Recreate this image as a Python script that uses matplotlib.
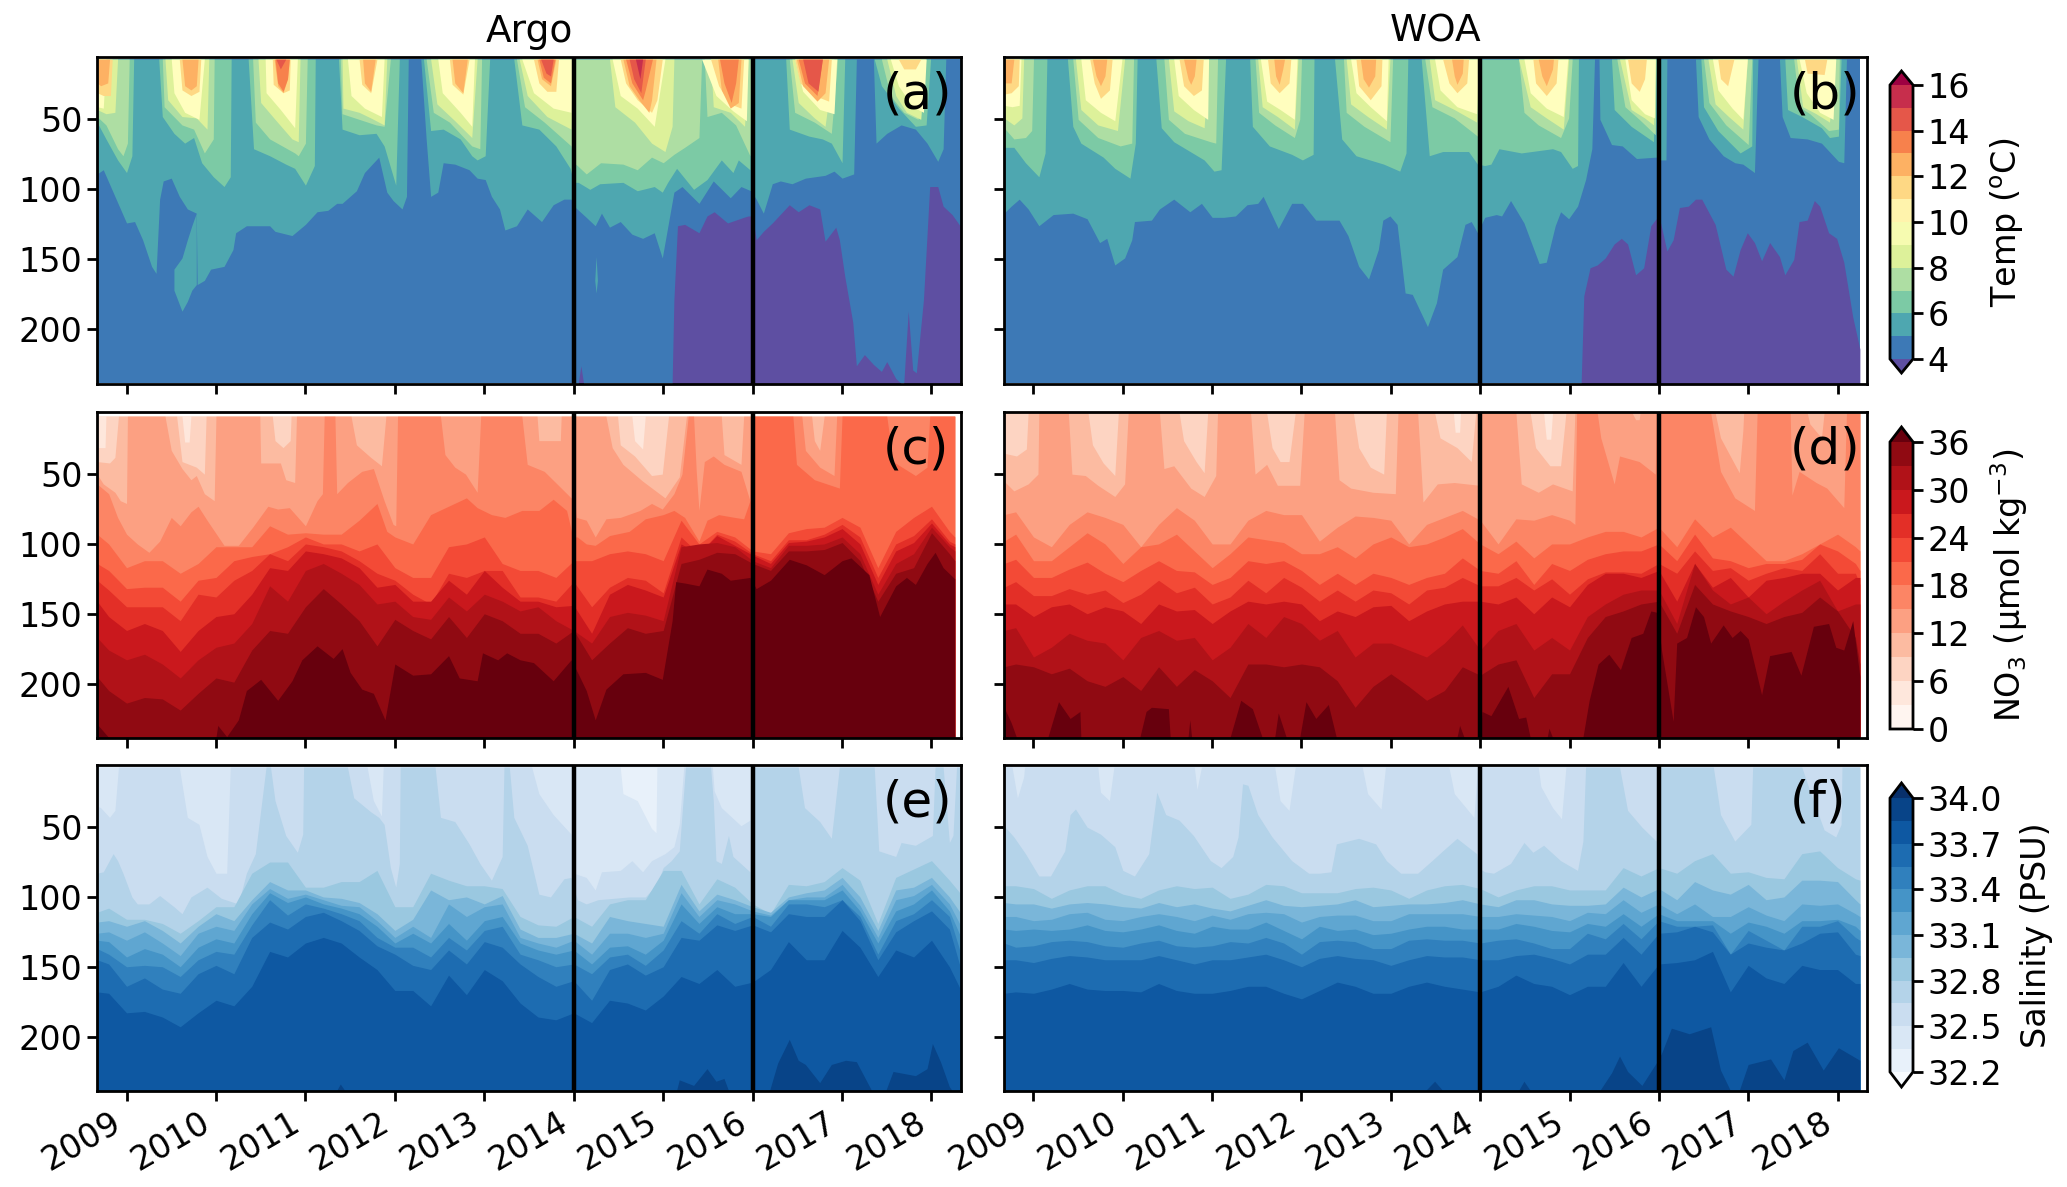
import numpy as np
import matplotlib
matplotlib.use("Agg")
import matplotlib.pyplot as plt
from matplotlib.cm import ScalarMappable
from matplotlib.colors import BoundaryNorm, ListedColormap

# 時間は 2000 年からの年数、値は等値線の深さ (m)
years = list(range(2009, 2019))
depth_ticks = [50, 100, 150, 200]
temp_levels = [4, 5, 6, 7, 8, 9, 10, 11, 12, 13, 14, 15, 16]
no3_levels = [0, 3, 6, 9, 12, 15, 18, 21, 24, 27, 30, 33, 36]
sal_levels = [32.2, 32.35, 32.5, 32.65, 32.8, 32.95, 33.1, 33.25, 33.4, 33.55, 33.7, 33.85, 34.0]
temp_ticks = [4, 6, 8, 10, 12, 14, 16]
no3_ticks = [0, 6, 12, 18, 24, 30, 36]
sal_ticks = [32.2, 32.5, 32.8, 33.1, 33.4, 33.7, 34.0]

grid_t = [8.67, 8.8, 9.0, 9.2, 9.4, 9.6, 9.8, 10.0, 10.2, 10.4, 10.6, 10.8, 11.0, 11.2, 11.4, 11.6, 11.8,
          12.0, 12.2, 12.4, 12.6, 12.8, 13.0, 13.2, 13.4, 13.6, 13.8, 14.0, 14.2, 14.4, 14.6, 14.8, 15.0,
          15.2, 15.4, 15.6, 15.8, 16.0, 16.2, 16.4, 16.6, 16.8, 17.0, 17.2, 17.4, 17.6, 17.8, 18.0, 18.2]

# (a) Argo 水温
a4 = [(8.67,240),(14.05,240),(14.08,226),(14.11,240),(15.1,240),(15.12,179),(15.16,126),(15.24,125),(15.4,131),(15.49,119),(15.57,116),(15.72,124),(15.9,120),(15.95,119),(16,119),(16.04,136),(16.12,130),(16.22,124),(16.41,111),(16.51,116),(16.63,111),(16.75,114),(16.81,137),(16.93,127),(16.97,136),(17.03,162),(17.12,195),(17.16,226),(17.25,218),(17.35,225),(17.44,230),(17.5,223),(17.6,235),(17.66,240),(17.69,240),(17.74,187),(17.79,229),(17.83,231),(17.91,179),(17.98,98),(18.07,98),(18.13,112),(18.23,118),(18.33,127)]
a5 = [(8.67,89),(8.74,86),(8.87,105),(9,124),(9.09,123),(9.18,136),(9.28,155),(9.33,160),(9.37,107),(9.41,94),(9.5,92),(9.59,105),(9.68,114),(9.78,117),(9.79,168),(9.87,165),(9.94,157),(10.09,155),(10.19,143),(10.22,131),(10.34,126),(10.6,126),(10.66,130),(10.85,133),(11,125),(11.13,116),(11.25,115),(11.35,110),(11.41,110),(11.57,101),(11.66,88),(11.82,77),(11.91,102),(11.98,108),(12.08,114),(12.13,105),(12.15,0),(12.29,0),(12.35,64),(12.4,105),(12.48,102),(12.54,81),(12.67,82),(12.83,86),(12.92,92),(13.01,93),(13.08,105),(13.17,114),(13.23,129),(13.36,126),(13.48,114),(13.64,123),(13.77,111),(13.89,107),(13.97,107),(14.02,113),(14.14,120),(14.24,126),(14.31,117),(14.4,127),(14.52,123),(14.65,132),(14.77,135),(14.9,131),(14.99,149),(15.12,102),(15.21,98),(15.4,110),(15.56,94),(15.75,106),(15.87,98),(15.98,101),(16.04,107),(16.12,117),(16.22,96),(16.31,94),(16.44,96),(16.59,92),(16.81,90),(16.91,87),(17,92),(17.13,89),(17.16,0),(17.35,0),(17.38,67),(17.5,60),(17.66,54),(17.82,57),(17.95,67),(18.07,80),(18.13,71),(18.16,0),(18.33,0)]
a6 = [(8.67,52),(8.77,64),(8.9,79),(9,88),(9.06,76),(9.08,0),(9.36,0),(9.4,48),(9.53,60),(9.65,67),(9.75,63),(9.84,81),(9.97,91),(10.09,98),(10.16,91),(10.17,0),(10.36,0),(10.42,71),(10.6,76),(10.78,82),(10.88,85),(11,97),(11.1,83),(11.11,0),(11.37,0),(11.41,57),(11.6,61),(11.79,60),(11.88,69),(12.01,97),(12.05,0),(12.32,0),(12.4,58),(12.54,57),(12.73,64),(12.86,76),(12.92,79),(13.01,76),(13.06,0),(13.33,0),(13.42,54),(13.61,57),(13.8,69),(13.96,85),(14,95),(14.05,95),(14.18,100),(14.29,96),(14.55,95),(14.71,101),(14.9,98),(14.99,102),(15.05,95),(15.15,85),(15.34,100),(15.49,93),(15.65,79),(15.78,88),(15.84,79),(15.97,86),(15.98,0),(16.37,0),(16.41,57),(16.63,62),(16.78,64),(16.88,67),(17,81),(17.03,0),(17.36,0),(17.44,26),(17.63,42),(17.82,55),(17.94,54),(17.99,0),(18.33,0)]
a7 = [(8.67,48),(8.77,54),(8.9,71),(8.96,76),(9.01,67),(9.03,0),(9.4,0),(9.42,41),(9.62,54),(9.75,57),(9.87,74),(9.97,64),(9.98,0),(10.41,0),(10.44,52),(10.6,64),(10.88,74),(10.92,76),(11,67),(11.02,0),(11.39,0),(11.41,46),(11.6,50),(11.79,54),(11.88,55),(11.95,0),(12.35,0),(12.43,45),(12.61,52),(12.86,69),(12.95,71),(12.97,0),(13.36,0),(13.45,41),(13.67,52),(13.97,69),(14,81),(14.04,83),(14.14,89),(14.3,81),(14.55,82),(14.71,86),(14.87,77),(15,81),(15.12,75),(15.24,70),(15.4,63),(15.43,0),(15.46,0),(15.49,48),(15.65,45),(15.81,54),(15.97,76),(15.98,0),(16.41,0),(16.47,45),(16.69,52),(16.88,60),(16.95,0),(17.44,0),(17.54,33),(17.69,45),(17.85,50),(17.94,0),(18.33,0)]
a8 = [(8.67,43),(8.77,46),(8.87,45),(8.9,0),(9.43,0),(9.46,36),(9.62,48),(9.78,49),(9.9,57),(9.92,0),(10.47,0),(10.5,38),(10.66,50),(10.85,64),(10.92,66),(10.94,0),(11.41,0),(11.42,42),(11.6,45),(11.73,49),(11.88,54),(11.91,0),(12.4,0),(12.47,39),(12.67,51),(12.86,63),(12.92,0),(13.39,0),(13.48,33),(13.7,48),(13.97,57),(14,0),(14.4,0),(14.46,41),(14.68,52),(14.87,67),(15.02,73),(15.1,55),(15.12,0),(15.53,0),(15.56,41),(15.75,45),(15.91,55),(15.95,0),(16.44,0),(16.51,38),(16.69,49),(16.81,55),(16.91,0),(17.5,0),(17.6,33),(17.72,45),(17.88,50),(17.93,0),(18.33,0)]
a9 = [(8.67,41),(8.74,42),(8.77,0),(9.5,0),(9.53,31),(9.65,45),(9.81,50),(9.87,0),(10.55,0),(10.56,31),(10.72,43),(10.88,56),(10.91,0),(11.47,0),(11.51,33),(11.66,42),(11.85,48),(11.88,0),(12.48,0),(12.53,31),(12.73,45),(12.86,55),(12.89,0),(13.42,0),(13.55,31),(13.77,42),(13.97,45),(13.99,0),(14.43,0),(14.52,33),(14.71,42),(14.9,55),(15.02,0),(15.43,0),(15.59,33),(15.78,44),(15.93,51),(15.95,0),(16.47,0),(16.56,30),(16.75,43),(16.91,46),(16.94,0),(17.54,0),(17.63,26),(17.79,41),(17.91,45),(17.94,0),(18.33,0)]
a11 = [(8.67,31),(8.74,33),(8.82,33),(8.84,0),(9.59,0),(9.62,29),(9.72,33),(9.81,30),(9.83,0),(10.63,0),(10.64,25),(10.75,31),(10.82,29),(10.83,0),(11.6,0),(11.63,25),(11.73,31),(11.8,0),(12.61,0),(12.64,25),(12.76,32),(12.83,0),(13.55,0),(13.61,24),(13.7,30),(13.8,30),(13.83,0),(14.52,0),(14.58,24),(14.71,36),(14.87,45),(14.93,36),(14.99,0),(15.53,0),(15.62,26),(15.75,39),(15.87,42),(15.9,0),(16.47,0),(16.53,24),(16.69,33),(16.85,37),(16.88,0),(17.63,0),(17.69,14),(17.82,14),(17.88,0),(18.33,0)]
a12 = [(8.67,24),(8.71,26),(8.79,24),(8.81,0),(9.62,0),(9.65,26),(9.72,29),(9.78,26),(9.8,0),(10.65,0),(10.69,26),(10.75,31),(10.8,21),(10.82,0),(11.64,0),(11.66,24),(11.73,30),(11.78,0),(12.64,0),(12.67,24),(12.76,31),(12.81,0),(13.59,0),(13.64,21),(13.74,26),(13.8,0),(14.55,0),(14.62,26),(14.74,37),(14.84,45),(14.87,36),(14.92,0),(15.61,0),(15.65,29),(15.75,42),(15.84,38),(15.87,0),(16.49,0),(16.56,26),(16.72,37),(16.81,31),(16.85,0),(18.33,0)]
a13 = [(8.67,0),(10.66,0),(10.69,24),(10.75,30),(10.8,21),(10.82,0),(13.61,0),(13.66,20),(13.74,24),(13.79,0),(14.58,0),(14.65,24),(14.77,36),(14.8,29),(14.88,0),(15.63,0),(15.68,24),(15.76,38),(15.81,24),(15.84,0),(16.51,0),(16.58,24),(16.72,33),(16.78,0),(18.33,0)]
a14 = [(8.67,0),(10.67,0),(10.72,14),(10.78,0),(13.63,0),(13.69,17),(13.74,19),(13.77,0),(14.62,0),(14.67,21),(14.75,31),(14.8,0),(16.56,0),(16.62,24),(16.73,30),(16.78,0),(18.33,0)]
a15 = [(8.67,0),(14.69,0),(14.74,21),(14.77,0),(18.33,0)]
a_lobe_t = [9.53, 9.62, 9.68, 9.73, 9.78]
a_lobe_top = [157, 149, 136, 126, 117]
a_lobe_bot = [172, 187, 180, 172, 168]
a_sliver_t = [14.235, 14.25, 14.265]
a_sliver_top = [165, 148, 165]
a_sliver_bot = [165, 174, 165]

# (b) WOA 水温
b4 = [(8.67,240),(15.13,240),(15.16,176),(15.23,156),(15.31,154),(15.4,149),(15.5,139),(15.58,135),(15.65,139),(15.74,161),(15.83,156),(15.91,126),(15.97,121),(16.02,124),(16.09,144),(16.16,136),(16.23,113),(16.33,112),(16.41,107),(16.48,107),(16.63,125),(16.75,157),(16.83,162),(16.91,143),(16.99,131),(17.07,138),(17.15,151),(17.24,138),(17.35,148),(17.41,161),(17.51,150),(17.57,123),(17.66,122),(17.74,108),(17.8,112),(17.9,131),(17.99,135),(18.07,152),(18.17,191),(18.25,214)]
b5 = [(8.67,117),(8.75,112),(8.84,107),(8.94,114),(9.06,126),(9.22,118),(9.44,117),(9.6,121),(9.74,138),(9.82,135),(9.91,154),(10.02,149),(10.1,136),(10.13,123),(10.32,122),(10.41,114),(10.57,107),(10.75,116),(10.88,110),(11,120),(11.13,120),(11.26,119),(11.39,111),(11.51,110),(11.57,105),(11.74,128),(11.89,110),(12.01,110),(12.16,122),(12.42,122),(12.52,133),(12.64,155),(12.75,164),(12.86,143),(12.91,122),(12.99,119),(13.07,125),(13.16,174),(13.24,175),(13.41,198),(13.51,181),(13.58,157),(13.74,148),(13.83,125),(13.9,123),(13.97,131),(14.05,120),(14.18,118),(14.24,119),(14.34,108),(14.49,124),(14.66,153),(14.74,152),(14.84,126),(14.9,116),(14.99,121),(15.09,112),(15.18,93),(15.25,71),(15.28,0),(15.33,0),(15.34,50),(15.47,68),(15.59,69),(15.75,78),(15.97,77),(16.02,79),(16.08,79),(16.09,0),(16.41,0),(16.44,48),(16.56,64),(16.72,76),(16.85,81),(16.94,82),(17.07,88),(17.11,0),(17.35,0),(17.38,48),(17.47,63),(17.66,64),(17.82,67),(18.01,80),(18.07,81),(18.1,0),(18.25,0)]
b6 = [(8.67,70),(8.78,70),(8.91,81),(9.06,91),(9.13,74),(9.15,0),(9.38,0),(9.44,55),(9.53,67),(9.78,77),(9.91,85),(10.08,92),(10.14,67),(10.16,0),(10.37,0),(10.43,56),(10.57,66),(10.91,79),(11.02,87),(11.1,86),(11.15,0),(11.42,0),(11.45,55),(11.64,69),(11.89,75),(12.01,79),(12.13,75),(12.14,0),(12.37,0),(12.45,64),(12.61,76),(12.92,82),(13.1,87),(13.17,74),(13.19,0),(13.34,0),(13.43,76),(13.58,73),(13.87,73),(13.97,82),(14.05,83),(14.12,82),(14.21,71),(14.46,74),(14.81,71),(14.9,73),(15.03,85),(15.09,83),(15.1,0),(15.47,0),(15.5,43),(15.69,55),(15.94,66),(15.97,0),(16.47,0),(16.5,41),(16.66,58),(16.91,74),(17.04,69),(17.05,0),(17.41,0),(17.44,43),(17.6,48),(17.82,56),(17.91,63),(18.01,62),(18.04,0),(18.25,0)]
b7 = [(8.67,56),(8.78,64),(8.91,63),(8.98,58),(9,0),(9.44,0),(9.5,50),(9.72,63),(9.97,69),(10.1,67),(10.12,0),(10.46,0),(10.51,50),(10.69,60),(10.98,66),(11.04,67),(11.06,0),(11.48,0),(11.52,45),(11.7,54),(11.92,63),(11.98,50),(12,0),(12.47,0),(12.5,45),(12.7,55),(12.99,66),(13.02,0),(13.38,0),(13.46,41),(13.71,49),(13.97,62),(13.99,0),(14.43,0),(14.49,45),(14.65,54),(14.9,63),(14.99,49),(15.03,0),(15.53,0),(15.62,41),(15.78,50),(15.96,61),(15.97,0),(16.5,0),(16.56,38),(16.75,54),(17,68),(17.04,0),(17.51,0),(17.57,41),(17.69,46),(17.9,58),(18.01,57),(18.02,0),(18.25,0)]
b8 = [(8.67,49),(8.78,54),(8.87,49),(8.89,0),(9.47,0),(9.53,43),(9.72,54),(9.94,58),(10.02,0),(10.51,0),(10.57,44),(10.73,51),(10.91,56),(10.96,0),(11.51,0),(11.56,41),(11.73,48),(11.92,57),(11.96,0),(12.5,0),(12.55,39),(12.74,48),(12.95,57),(12.99,0),(13.43,0),(13.49,36),(13.71,43),(13.96,52),(13.98,0),(14.43,0),(14.56,41),(14.74,49),(14.93,57),(14.99,0),(15.56,0),(15.69,43),(15.84,49),(15.94,54),(15.96,0),(16.55,0),(16.63,39),(16.78,48),(16.94,57),(16.99,0),(17.54,0),(17.61,41),(17.76,46),(17.91,52),(17.98,0),(18.25,0)]
b9 = [(8.67,40),(8.76,41),(8.84,40),(8.86,0),(9.53,0),(9.58,36),(9.75,45),(9.91,51),(9.99,0),(10.57,0),(10.62,33),(10.79,43),(10.95,50),(10.96,0),(11.54,0),(11.61,37),(11.76,43),(11.92,50),(11.95,0),(12.55,0),(12.61,31),(12.77,41),(12.95,51),(12.97,0),(13.49,0),(13.55,29),(13.74,41),(13.96,46),(13.98,0),(14.49,0),(14.56,31),(14.74,42),(14.93,48),(14.98,0),(15.62,0),(15.69,36),(15.84,46),(15.95,49),(15.96,0),(16.6,0),(16.66,29),(16.82,42),(16.94,50),(16.99,0),(17.57,0),(17.65,31),(17.8,45),(17.95,50),(17.98,0),(18.25,0)]
b11 = [(8.67,32),(8.75,31),(8.83,26),(8.84,0),(9.63,0),(9.68,24),(9.75,35),(9.85,29),(9.88,0),(10.63,0),(10.68,26),(10.79,33),(10.88,29),(10.9,0),(11.62,0),(11.65,24),(11.75,31),(11.86,24),(11.88,0),(12.61,0),(12.64,26),(12.77,36),(12.89,26),(12.9,0),(13.58,0),(13.65,24),(13.74,31),(13.85,24),(13.87,0),(14.59,0),(14.62,24),(14.74,33),(14.85,24),(14.87,0),(15.65,0),(15.69,24),(15.78,30),(15.84,21),(15.86,0),(16.66,0),(16.69,21),(16.77,26),(16.84,0),(17.63,0),(17.66,17),(17.85,18),(17.88,0),(18.25,0)]
b12 = [(8.67,24),(8.75,24),(8.78,0),(9.66,0),(9.7,19),(9.75,26),(9.8,19),(9.82,0),(10.68,0),(10.73,21),(10.76,25),(10.8,19),(10.82,0),(11.69,0),(11.71,19),(11.75,25),(11.79,14),(11.81,0),(12.66,0),(12.69,21),(12.75,27),(12.82,19),(12.83,0),(13.68,0),(13.71,19),(13.74,25),(13.8,17),(13.81,0),(14.65,0),(14.69,19),(14.74,26),(14.81,14),(14.82,0),(18.25,0)]

# (c) Argo 硝酸塩
c2 = [(8.67,31),(8.76,31),(8.77,0),(9.62,0),(9.65,27),(9.7,27),(9.72,0),(14.65,0),(14.68,26),(14.77,32),(14.8,0),(18.26,0)]
c3 = [(8.67,41),(8.81,42),(8.87,38),(8.91,0),(9.56,0),(9.62,41),(9.78,45),(9.87,50),(9.89,0),(10.63,0),(10.66,26),(10.75,31),(10.83,26),(10.84,0),(14.49,0),(14.52,29),(14.68,37),(14.87,51),(14.99,50),(15.06,0),(18.26,0)]
c4 = [(8.67,50),(8.74,57),(8.87,63),(8.93,69),(9,71),(9.01,0),(9.43,0),(9.5,33),(9.62,46),(9.72,54),(9.78,51),(9.87,64),(9.98,69),(10,0),(10.49,0),(10.5,42),(10.72,42),(10.78,54),(10.88,56),(10.9,0),(11.51,0),(11.57,29),(11.73,38),(11.85,44),(11.9,0),(13.59,0),(13.61,26),(13.85,26),(13.86,0),(14.36,0),(14.43,31),(14.55,43),(14.77,55),(15.02,67),(15.18,52),(15.26,0),(15.65,0),(15.68,36),(15.87,43),(15.9,0),(16.66,0),(16.69,26),(16.75,33),(16.8,0),(18.26,0)]
c5 = [(8.67,57),(8.8,64),(8.9,81),(9,93),(9.12,100),(9.25,106),(9.37,98),(9.5,81),(9.6,87),(9.72,77),(9.8,73),(9.9,83),(10.09,101),(10.25,101),(10.41,88),(10.58,73),(10.69,75),(10.82,74),(11,87),(11.13,69),(11.19,64),(11.21,0),(11.33,0),(11.35,64),(11.47,56),(11.63,48),(11.76,46),(11.88,69),(11.98,86),(12.01,87),(12.03,0),(12.51,0),(12.56,36),(12.67,45),(12.79,50),(12.92,63),(12.96,0),(13.42,0),(13.48,43),(13.67,48),(13.86,60),(13.97,67),(14.01,67),(14.03,81),(14.14,83),(14.24,95),(14.36,82),(14.52,81),(14.74,76),(14.87,71),(14.99,75),(15.12,64),(15.21,50),(15.28,0),(15.34,0),(15.37,48),(15.4,76),(15.46,41),(15.56,37),(15.68,43),(15.87,48),(15.97,69),(15.98,0),(16.55,0),(16.59,33),(16.75,45),(16.91,51),(16.94,0),(18.26,0)]
c6 = [(8.67,93),(8.8,100),(9,117),(9.2,112),(9.4,112),(9.6,121),(9.8,114),(10,102),(10.2,102),(10.4,102),(10.6,87),(10.8,93),(11,92),(11.2,93),(11.4,93),(11.6,83),(11.8,71),(11.91,91),(12,95),(12.2,100),(12.4,79),(12.6,73),(12.8,67),(12.92,74),(13.08,79),(13.23,81),(13.42,76),(13.61,76),(13.77,68),(13.92,76),(13.99,95),(14.04,95),(14.14,100),(14.24,101),(14.4,94),(14.62,91),(14.8,82),(15,79),(15.12,76),(15.24,81),(15.4,98),(15.49,83),(15.62,79),(15.8,81),(15.9,82),(15.97,69),(15.98,0),(16.45,0),(16.49,43),(16.69,54),(16.97,60),(17,0),(17.5,0),(17.57,41),(17.82,51),(17.95,45),(17.98,0),(18.26,0)]
c7 = [114,119,132,131,131,141,126,124,112,109,107,102,95,100,100,105,100,117,124,124,102,100,95,114,119,119,124,112,112,107,105,107,112,83,100,91,95,105,107,92,89,88,81,88,117,91,81,73,91,95]
c8 = [126,133,145,145,145,155,136,138,126,119,107,112,100,102,105,112,121,126,136,143,121,124,119,119,138,138,141,127,145,131,124,126,135,95,107,93,98,107,112,97,97,93,86,95,124,100,94,82,98,100]
c9 = [141,152,162,157,162,177,162,152,150,136,117,119,105,107,110,117,131,129,141,141,126,136,119,131,141,141,145,144,164,136,129,133,138,100,107,94,101,108,114,99,98,95,89,100,129,105,99,85,100,102]
c10 = [167,176,183,179,186,196,183,174,171,157,130,141,119,114,121,129,143,141,152,154,138,148,136,141,148,145,155,162,171,152,149,151,155,102,100,99,102,112,117,101,101,100,95,107,136,114,107,88,102,105]
c11 = [195,205,214,210,211,219,207,196,199,176,162,164,145,132,143,155,173,154,162,168,152,167,150,155,164,164,171,162,183,171,160,164,162,114,111,106,107,114,119,105,105,104,99,112,141,121,117,92,107,112]
c12 = [(8.67,229),(8.8,240),(10,240),(10.02,230),(10.12,238),(10.25,226),(10.34,205),(10.5,197),(10.69,212),(10.85,198),(10.96,183),(11.13,173),(11.31,182),(11.41,175),(11.5,192),(11.63,204),(11.76,207),(11.89,226),(12,186),(12.2,194),(12.4,193),(12.6,180),(12.72,196),(12.92,198),(12.98,178),(13.15,183),(13.25,178),(13.4,183),(13.55,185),(13.77,198),(13.97,183),(14.05,193),(14.14,205),(14.24,226),(14.36,204),(14.55,193),(14.8,192),(14.99,197),(15.1,155),(15.14,127),(15.24,128),(15.4,130),(15.49,118),(15.65,121),(15.75,126),(15.97,124),(16.04,132),(16.2,126),(16.41,111),(16.6,115),(16.8,122),(17,112),(17.1,110),(17.3,122),(17.42,152),(17.6,130),(17.72,124),(17.82,129),(17.95,114),(18.04,106),(18.13,117),(18.26,125)]

# (d) WOA 硝酸塩
d2 = [(8.67,0),(13.7,0),(13.72,20),(13.77,20),(13.78,0),(14.71,0),(14.74,25),(14.79,25),(14.81,0),(18.25,0)]
d3 = [(8.67,35),(8.81,37),(8.92,32),(8.94,0),(9.61,0),(9.66,29),(9.78,42),(9.91,51),(9.95,0),(10.63,0),(10.68,26),(10.82,41),(10.91,49),(10.95,0),(11.61,0),(11.67,31),(11.76,41),(11.86,41),(11.93,0),(12.58,0),(12.64,31),(12.77,45),(12.92,50),(12.95,0),(13.49,0),(13.55,24),(13.74,31),(13.9,41),(13.95,0),(14.56,0),(14.62,31),(14.78,44),(14.9,44),(14.96,0),(18.25,0)]
d4 = [(8.67,55),(8.78,62),(8.94,57),(9.05,50),(9.06,0),(9.39,0),(9.43,50),(9.58,51),(9.72,58),(9.91,66),(10.02,57),(10.06,0),(10.41,0),(10.46,46),(10.57,44),(10.76,60),(10.91,66),(11.04,51),(11.06,0),(11.43,0),(11.48,50),(11.61,43),(11.73,58),(11.98,58),(12.03,0),(12.37,0),(12.42,54),(12.55,60),(12.8,63),(13.05,64),(13.08,0),(13.3,0),(13.36,70),(13.52,57),(13.71,56),(13.99,58),(14.01,0),(14.4,0),(14.46,57),(14.65,63),(14.81,57),(15.03,62),(15.06,0),(15.7,0),(15.74,11),(15.78,11),(15.79,0),(16.63,0),(16.69,24),(16.9,49),(16.94,19),(16.95,0),(17.66,0),(17.69,14),(17.82,24),(17.85,0),(18.25,0)]
d5 = [(8.67,79),(8.8,77),(9,95),(9.2,102),(9.4,86),(9.6,77),(9.8,81),(10,86),(10.2,102),(10.4,86),(10.6,74),(10.8,83),(11,100),(11.2,100),(11.4,83),(11.6,76),(11.8,79),(12,79),(12.2,98),(12.4,88),(12.6,80),(12.8,81),(13,83),(13.2,100),(13.4,86),(13.6,81),(13.8,76),(14,83),(14.2,100),(14.4,82),(14.6,83),(14.8,79),(15,83),(15.06,86),(15.08,0),(15.31,0),(15.35,24),(15.5,57),(15.56,37),(15.78,41),(15.96,50),(15.97,0),(16.58,0),(16.69,48),(16.85,67),(17.07,76),(17.1,0),(17.47,0),(17.49,65),(17.57,48),(17.76,56),(17.88,60),(18.07,74),(18.1,0),(18.25,0)]
d6 = [98,93,112,112,102,92,100,114,102,100,93,105,117,107,95,97,99,107,107,102,110,100,95,102,100,95,89,100,107,98,110,100,100,95,91,91,95,88,102,82,95,88,100,112,112,107,100,93,102,105]
d7 = [114,111,124,124,118,113,121,127,119,112,119,120,129,124,112,114,112,119,129,121,129,121,124,129,124,121,110,119,121,112,129,114,119,111,107,105,105,100,112,93,110,112,117,114,114,111,100,105,114,119]
d8 = [131,127,137,137,132,136,133,142,136,126,135,131,143,138,126,135,124,131,141,133,141,133,135,143,133,131,124,130,130,124,133,125,136,125,120,120,121,114,121,105,119,117,126,121,117,119,107,121,121,129]
d9 = [143,143,152,145,143,150,145,148,157,143,148,147,157,148,141,143,141,143,155,148,152,145,144,155,148,143,141,141,143,138,150,138,145,129,121,121,124,119,141,114,131,124,138,126,124,121,121,133,124,124]
d10 = [162,160,181,174,164,169,171,183,167,162,169,167,183,174,157,167,152,157,169,162,181,171,171,176,181,171,158,176,162,157,176,167,176,152,143,136,133,133,157,114,133,143,138,150,141,133,126,148,143,143]
d11 = [188,186,188,193,189,198,202,195,205,188,202,190,198,210,186,186,188,186,188,198,217,202,193,202,212,205,188,194,186,183,210,193,193,167,152,148,143,141,164,129,143,148,152,157,152,149,138,148,167,186]
d12 = [(8.67,217),(8.75,228),(8.81,240),(9.16,240),(9.28,213),(9.41,225),(9.52,220),(9.53,240),(10.19,240),(10.26,220),(10.32,217),(10.51,218),(10.53,240),(10.73,240),(10.75,226),(10.77,240),(11.2,240),(11.32,212),(11.45,218),(11.56,240),(11.7,240),(11.74,221),(11.83,240),(11.98,240),(12.05,213),(12.16,225),(12.3,215),(12.39,240),(13.74,240),(13.77,230),(13.82,240),(14,240),(14.02,220),(14.12,223),(14.31,202),(14.43,225),(14.51,224),(14.56,240),(14.75,240),(14.77,232),(14.81,240),(15.15,240),(15.22,212),(15.32,186),(15.44,179),(15.57,190),(15.69,167),(15.82,164),(15.91,148),(15.98,149),(16.03,176),(16.16,227),(16.2,171),(16.31,167),(16.41,145),(16.5,152),(16.58,171),(16.72,158),(16.82,167),(16.91,162),(17,168),(17.15,208),(17.24,180),(17.48,177),(17.59,194),(17.73,159),(17.9,157),(17.98,174),(18.07,176),(18.17,155),(18.25,195)]

# (e) Argo 塩分
e2 = [(8.67,0),(14.52,0),(14.55,26),(14.71,31),(14.87,51),(14.92,54),(14.93,0),(18.33,0)]
e3 = [(8.67,35),(8.71,36),(8.81,43),(8.87,38),(8.91,0),(9.59,0),(9.68,43),(9.81,48),(9.9,71),(10,83),(10.12,83),(10.16,0),(11.69,0),(11.76,31),(11.85,42),(11.87,0),(13.53,0),(13.61,26),(13.77,41),(13.97,55),(14,83),(14.14,86),(14.24,95),(14.31,82),(14.52,81),(14.65,74),(14.77,82),(14.87,74),(15.02,69),(15.12,64),(15.18,48),(15.23,0),(15.55,0),(15.57,24),(15.65,36),(15.87,49),(15.97,45),(15.98,0),(18.33,0)]
e4 = [(8.67,83),(8.74,82),(8.85,69),(8.9,74),(8.96,83),(9.06,100),(9.12,105),(9.25,105),(9.37,99),(9.53,107),(9.62,112),(9.72,100),(9.9,93),(10.06,101),(10.25,105),(10.34,83),(10.44,69),(10.56,0),(10.61,0),(10.66,31),(10.78,56),(10.91,68),(10.97,55),(10.98,0),(11.47,0),(11.54,29),(11.73,39),(11.82,43),(11.88,48),(11.95,79),(12.01,93),(12.05,76),(12.06,0),(12.45,0),(12.51,43),(12.67,46),(12.83,62),(12.95,76),(13.08,88),(13.2,71),(13.22,0),(13.28,0),(13.33,43),(13.48,63),(13.61,98),(13.74,100),(13.89,87),(13.97,86),(14.04,102),(14.14,105),(14.27,102),(14.62,100),(14.8,100),(14.93,91),(15,79),(15.09,74),(15.18,67),(15.25,0),(15.53,0),(15.56,31),(15.59,74),(15.65,76),(15.73,56),(15.78,71),(15.97,82),(15.98,0),(16.51,0),(16.58,36),(16.75,46),(16.88,58),(16.97,0),(17.36,0),(17.41,67),(17.6,71),(17.66,61),(17.82,63),(18.01,56),(18.04,0),(18.13,0),(18.2,61),(18.24,56),(18.28,0),(18.33,0)]
e5 = [111,108,116,116,119,126,117,107,107,83,75,75,93,93,89,89,81,107,107,83,88,92,92,94,114,120,121,114,121,105,102,102,81,81,105,87,93,105,112,91,92,89,79,88,119,86,80,74,88,98]
e6 = [118,117,121,117,124,133,121,112,117,102,89,95,95,100,101,104,112,124,116,95,102,100,105,99,123,129,129,126,133,114,117,119,121,91,110,98,102,107,111,100,97,95,86,100,124,95,93,86,100,112]
e7 = [126,125,131,125,133,142,126,121,124,105,94,101,98,102,106,107,117,129,121,129,105,114,107,105,129,133,136,131,141,126,126,129,126,97,114,102,105,110,113,102,100,100,91,106,129,102,99,91,105,121]
e8 = [131,132,143,137,141,150,136,130,133,112,97,104,100,105,108,112,121,133,126,133,119,131,117,114,133,138,141,138,148,136,135,141,131,105,119,107,112,112,114,102,102,102,95,110,133,110,105,95,110,129]
e9 = [137,141,150,149,150,157,145,139,141,120,102,113,105,108,112,117,129,136,136,143,129,138,124,121,141,145,150,148,155,143,141,149,138,117,126,112,119,114,121,105,105,107,102,114,141,117,112,102,114,141]
e10 = [145,148,164,158,166,169,155,149,155,129,118,123,114,111,117,124,135,141,149,152,138,148,132,136,148,157,164,160,174,152,148,156,150,129,131,120,124,120,125,112,114,114,102,117,145,125,117,110,123,152]
e11 = [168,169,183,182,186,193,183,174,178,164,139,143,133,129,133,143,152,167,167,178,156,170,152,160,176,186,188,183,190,174,176,181,171,157,162,152,164,161,152,132,145,145,124,136,157,138,143,131,150,167]
e12 = [(8.67,240),(11.35,240),(11.39,234),(11.44,240),(15.15,240),(15.18,231),(15.34,235),(15.49,223),(15.59,232),(15.68,230),(15.73,240),(16.19,240),(16.28,219),(16.41,202),(16.51,217),(16.59,220),(16.75,233),(16.88,220),(17.04,217),(17.16,218),(17.33,240),(17.49,240),(17.57,225),(17.82,228),(17.95,223),(18.01,205),(18.1,218),(18.2,236),(18.23,240),(18.33,240)]

# (f) WOA 塩分
f3 = [(8.67,0),(8.76,0),(8.82,29),(8.89,14),(8.9,0),(9.72,0),(9.75,25),(9.85,31),(9.9,0),(10.8,0),(10.83,23),(10.88,0),(11.7,0),(11.76,31),(11.86,38),(11.93,0),(12.68,0),(12.74,26),(12.89,37),(12.94,0),(13.65,0),(13.71,26),(13.93,43),(13.97,0),(14.65,0),(14.68,21),(14.81,36),(14.91,44),(14.96,0),(18.25,0)]
f4 = [(8.67,49),(8.78,57),(8.91,69),(9.06,85),(9.19,85),(9.35,67),(9.41,41),(9.47,37),(9.6,50),(9.75,55),(9.91,64),(10,81),(10.13,85),(10.29,69),(10.38,25),(10.48,41),(10.63,45),(10.79,56),(10.98,74),(11.1,79),(11.23,71),(11.29,57),(11.34,19),(11.4,20),(11.51,41),(11.67,57),(11.89,74),(12.08,83),(12.2,83),(12.33,82),(12.39,62),(12.64,58),(12.83,62),(12.95,74),(13.11,83),(13.3,83),(13.46,74),(13.58,67),(13.74,58),(13.96,69),(13.98,79),(14.05,82),(14.15,83),(14.34,76),(14.49,61),(14.59,68),(14.71,63),(14.9,74),(15.09,81),(15.15,60),(15.18,0),(15.56,0),(15.65,38),(15.81,50),(15.97,60),(15.98,0),(16.61,0),(16.69,41),(16.85,60),(17.03,48),(17.05,0),(17.6,0),(17.69,24),(17.85,52),(17.98,57),(18.04,48),(18.05,0),(18.25,0)]
f5 = [92,92,94,101,95,92,92,98,101,95,92,94,93,101,98,91,92,97,97,97,94,93,95,101,95,92,91,94,100,95,92,92,95,95,95,79,85,79,83,74,69,83,82,86,87,69,67,79,87,88]
f6 = [104,105,105,108,105,104,105,107,108,104,107,105,108,110,106,102,106,107,106,105,102,107,106,105,105,104,102,105,107,102,102,105,106,106,105,93,100,94,102,89,95,98,91,102,100,88,88,89,102,105]
f7 = [114,114,117,116,112,111,116,117,114,112,114,117,113,116,112,111,112,118,114,113,113,117,117,112,112,112,112,114,114,112,113,114,117,111,112,102,111,105,112,105,114,114,107,113,117,105,106,105,112,114]
f8 = [123,124,123,124,123,120,124,125,123,120,124,126,121,123,123,118,124,130,121,124,123,127,126,123,121,121,123,123,123,119,121,124,125,119,121,112,121,112,117,117,117,126,118,121,126,117,117,116,121,124]
f9 = [133,136,135,132,131,132,135,136,133,131,135,136,135,132,133,129,133,141,132,131,132,137,137,131,130,131,131,133,131,130,133,137,137,126,130,119,130,117,121,121,120,141,124,131,138,121,121,117,129,131]
f10 = [145,145,147,144,142,143,145,145,145,142,145,148,145,145,143,141,145,150,144,142,144,145,149,145,142,143,143,145,145,142,141,144,148,141,141,129,141,126,125,121,125,141,133,136,138,133,126,125,141,142]
f11 = [169,168,169,166,162,166,167,167,168,162,167,169,169,167,164,164,169,173,167,161,164,169,169,164,161,164,166,168,164,156,162,164,170,164,164,147,164,148,147,145,139,168,149,158,162,149,152,152,162,162]
f12 = [(8.67,240),(13.39,240),(13.49,232),(13.58,240),(14.43,240),(14.49,232),(14.56,240),(15.34,240),(15.47,226),(15.56,214),(15.65,225),(15.81,235),(15.98,218),(16.03,212),(16.14,194),(16.34,198),(16.58,193),(16.69,224),(16.8,240),(16.9,240),(17,220),(17.25,216),(17.4,231),(17.5,210),(17.66,204),(17.84,224),(18.01,208),(18.25,217)]

BOTTOM = 238.6
W, H = 2067, 1187
plt.rcParams["font.family"] = "DejaVu Sans"
plt.rcParams["font.size"] = 24
plt.rcParams["axes.linewidth"] = 2
plt.rcParams["mathtext.default"] = "regular"

spectral = plt.get_cmap("Spectral_r")
reds = plt.get_cmap("Reds")
blues = plt.get_cmap("Blues")
tc = [spectral(i / 13) for i in range(14)]
nc = [reds(i / 12) for i in range(13)]
sc = [blues(i / 13) for i in range(14)]


def make_axes(left, top, right, bottom):
    return fig.add_axes([left / W, 1 - bottom / H, (right - left) / W, (bottom - top) / H])


def with_grid(values, end):
    return list(zip(grid_t + [end], values))


def fill_below(ax, pts, color, top):
    t, d = zip(*pts)
    ax.fill_between(2000 + np.array(t), np.clip(d, top, BOTTOM), BOTTOM, color=color, lw=0)


def fill_above(ax, pts, color, top):
    t, d = zip(*pts)
    ax.fill_between(2000 + np.array(t), top, np.clip(d, top, BOTTOM), color=color, lw=0)


def fill_base(ax, color, top, end):
    ax.fill_between([2008.67, 2000 + end], top, BOTTOM, color=color, lw=0)


fig = plt.figure(figsize=(W / 100, H / 100), dpi=100)
ax_a = make_axes(97, 57, 961, 384)
ax_b = make_axes(1004, 57, 1867, 384)
ax_c = make_axes(97, 412, 961, 738)
ax_d = make_axes(1004, 412, 1867, 738)
ax_e = make_axes(97, 765, 961, 1091)
ax_f = make_axes(1004, 765, 1867, 1091)

# 水温
fill_base(ax_a, tc[1], 7, 18.33)
fill_below(ax_a, a4, tc[0], 7)
temp_a = [(a5, 2), (a6, 3), (a7, 4), (a8, 5), (a9, 6.5), (a11, 8), (a12, 9), (a13, 10), (a14, 11), (a15, 12)]
ax_a.fill_between(2000 + np.array(a_lobe_t), a_lobe_top, a_lobe_bot, color=tc[2], lw=0)
ax_a.fill_between(2000 + np.array(a_sliver_t), a_sliver_top, a_sliver_bot, color=tc[2], lw=0)
for pts, i in temp_a:
    fill_above(ax_a, pts, spectral(i / 13), 7)

fill_base(ax_b, tc[1], 7, 18.25)
fill_below(ax_b, b4, tc[0], 7)
temp_b = [(b5, 2), (b6, 3), (b7, 4), (b8, 5), (b9, 6.5), (b11, 8), (b12, 9)]
for pts, i in temp_b:
    fill_above(ax_b, pts, spectral(i / 13), 7)

# 硝酸塩
fill_base(ax_c, nc[1], 8.5, 18.26)
for i, pts in enumerate([c2, c3, c4, c5, c6], start=2):
    fill_below(ax_c, pts, nc[i], 8.5)
for i, vals in enumerate([c7, c8, c9, c10, c11], start=7):
    fill_below(ax_c, with_grid(vals, 18.26), nc[i], 8.5)
fill_below(ax_c, c12, nc[12], 8.5)

fill_base(ax_d, nc[1], 6, 18.25)
for i, pts in enumerate([d2, d3, d4, d5], start=2):
    fill_below(ax_d, pts, nc[i], 6)
for i, vals in enumerate([d6, d7, d8, d9, d10, d11], start=6):
    fill_below(ax_d, with_grid(vals, 18.25), nc[i], 6)
fill_below(ax_d, d12, nc[12], 6)

# 塩分
fill_base(ax_e, sc[1], 7, 18.33)
for i, pts in enumerate([e2, e3, e4], start=2):
    fill_below(ax_e, pts, sc[i], 7)
for i, vals in enumerate([e5, e6, e7, e8, e9, e10, e11], start=5):
    fill_below(ax_e, with_grid(vals, 18.33), sc[i], 7)
fill_below(ax_e, e12, sc[12], 7)

fill_base(ax_f, sc[2], 7, 18.25)
for i, pts in enumerate([f3, f4], start=3):
    fill_below(ax_f, pts, sc[i], 7)
for i, vals in enumerate([f5, f6, f7, f8, f9, f10, f11], start=5):
    fill_below(ax_f, with_grid(vals, 18.25), sc[i], 7)
fill_below(ax_f, f12, sc[12], 7)

panels = [ax_a, ax_b, ax_c, ax_d, ax_e, ax_f]
names = ["(a)", "(b)", "(c)", "(d)", "(e)", "(f)"]
for n, (ax, name) in enumerate(zip(panels, names)):
    ax.set_xlim(2008.67, 2018.33)
    ax.set_ylim(239, 5.5)
    ax.axvline(2014, color="k", lw=3.2)
    ax.axvline(2016, color="k", lw=3.2)
    ax.set_xticks(years)
    ax.set_yticks(depth_ticks)
    ax.tick_params(width=2, length=7)
    ax.text(0.91, 0.885, name, transform=ax.transAxes, fontsize=36, ha="left", va="center")
    if n % 2 == 1:
        ax.set_yticklabels([])
    if n >= 4:
        ax.set_xticklabels([str(y) for y in years], rotation=30, ha="right")
    else:
        ax.set_xticklabels([])

ax_a.set_title("Argo", fontsize=27, pad=11)
ax_b.set_title("WOA", fontsize=27, pad=11)


def add_colorbar(top, bottom, colors, levels, ticks, label, extend, frac, fmt=None):
    cax = make_axes(1890, top, 1913, bottom)
    if extend == "both":
        cmap = ListedColormap(colors[1:-1]).with_extremes(under=colors[0], over=colors[-1])
    else:
        cmap = ListedColormap(colors[:-1]).with_extremes(over=colors[-1])
    norm = BoundaryNorm(levels, len(levels) - 1)
    cb = fig.colorbar(ScalarMappable(norm=norm, cmap=cmap), cax=cax, extend=extend, extendfrac=frac,
                      ticks=ticks, format=fmt, spacing="proportional")
    cb.set_label(label, fontsize=24, labelpad=13)
    cb.outline.set_linewidth(2)
    cb.ax.tick_params(width=2, length=7)
    cb.minorticks_off()


add_colorbar(71, 373, tc, temp_levels, temp_ticks, "Temp ($^{o}$C)", "both", 0.051)
add_colorbar(427, 729, nc, no3_levels, no3_ticks, "NO$_3$ ($\\mu$mol kg$^{-3}$)", "max", 0.052)
add_colorbar(783, 1087, sc, sal_levels, sal_ticks, "Salinity (PSU)", "both", 0.055, "%.1f")

fig.savefig("out.png", dpi=100)
